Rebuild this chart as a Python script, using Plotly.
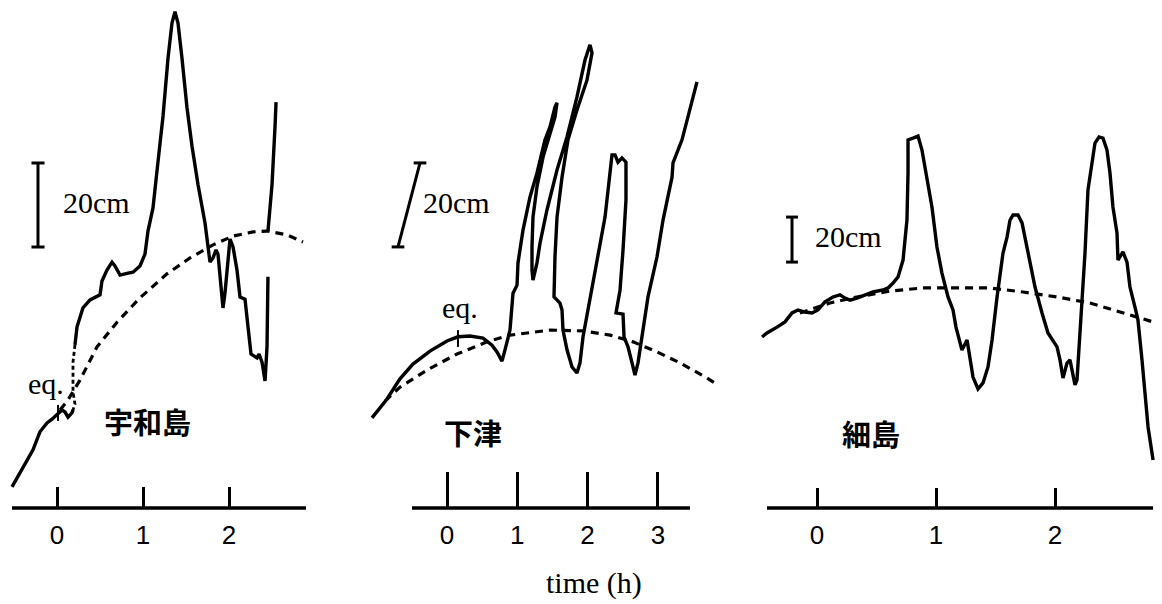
import plotly.graph_objects as go

W, H = 1162, 604

# ---------------- data (time in hours, sea level in cm relative to level at eq.) ----------
# 宇和島 (Uwajima)
uwa_t_a = [-0.523, -0.407, -0.279, -0.198, -0.116, -0.058, 0.0, 0.058, 0.093, 0.128, 0.174, 0.186]
uwa_cm_a = [-17.1, -12.9, -8.3, -4.0, -1.9, -1.0, 0.0, 1.2, 0.7, -0.5, 0.5, 1.2]
uwa_t_gap = [0.209, 0.186, 0.186, 0.186, 0.209, 0.174]
uwa_cm_gap = [16.7, 12.6, 8.8, 5.5, 2.6, 0.5]
uwa_t_b = [0.209, 0.233, 0.302, 0.384, 0.500, 0.523, 0.581, 0.640, 0.674, 0.733, 0.826, 0.884,
           0.965, 1.023, 1.058, 1.116, 1.174, 1.233, 1.291, 1.337, 1.372, 1.407, 1.453, 1.512,
           1.570, 1.640, 1.721, 1.756, 1.779, 1.814, 1.849, 1.872, 1.895, 1.930, 1.953, 1.977,
           2.012, 2.047, 2.093, 2.128, 2.186, 2.221, 2.256, 2.326, 2.349, 2.384, 2.419, 2.442, 2.453]
uwa_cm_b = [16.7, 21.0, 25.5, 27.4, 28.6, 31.9, 34.5, 36.4, 35.5, 33.3, 33.8, 34.0,
            35.5, 38.3, 43.8, 49.3, 60.2, 71.2, 85.0, 93.3, 96.0, 93.3, 85.0, 73.1,
            64.0, 54.8, 45.7, 40.0, 36.4, 37.4, 39.3, 38.3, 32.9, 25.5, 29.0, 34.5,
            41.9, 40.0, 34.5, 28.1, 27.6, 21.0, 14.5, 13.6, 14.5, 12.6, 8.1, 16.2, 32.9]
uwa_t_c = [2.453, 2.500, 2.535, 2.547]
uwa_cm_c = [43.8, 54.8, 68.6, 74.5]
uwa_tide_t = [0.035, 0.128, 0.267, 0.465, 0.698, 0.965, 1.279, 1.547, 1.814, 2.047, 2.279, 2.442, 2.674, 2.860]
uwa_tide_cm = [1.2, 3.6, 8.3, 16.2, 22.1, 27.9, 33.6, 37.4, 40.5, 42.6, 43.6, 43.8, 42.9, 41.2]

# 下津 (Shimotsu)
shi_t = [-1.067, -0.853, -0.669, -0.484, -0.242, 0.0, 0.156, 0.327, 0.512, 0.640, 0.711, 0.782,
         0.825, 0.896, 0.939, 0.996, 1.010, 1.081, 1.181, 1.280, 1.394, 1.465, 1.536, 1.565,
         1.536, 1.465, 1.366, 1.280, 1.223, 1.209, 1.209, 1.223, 1.280, 1.323, 1.422, 1.565,
         1.707, 1.849, 1.963, 2.034, 2.063, 1.991, 1.849, 1.721, 1.636, 1.565, 1.536, 1.522,
         1.607, 1.636, 1.650, 1.707, 1.778, 1.849, 1.892, 1.935, 2.034, 2.134, 2.248, 2.347,
         2.390, 2.432, 2.489, 2.546, 2.546, 2.504, 2.461, 2.404, 2.504, 2.518, 2.575, 2.632,
         2.674, 2.717, 2.774, 2.859, 2.987, 3.073, 3.201, 3.215, 3.343, 3.457, 3.556]
shi_cm = [-18.3, -13.8, -9.0, -5.5, -2.4, 0.0, 1.0, 1.2, 0.7, -1.0, -2.6, -4.8,
          -2.1, 2.6, 11.4, 13.3, 18.6, 26.4, 34.3, 40.0, 47.9, 51.0, 55.7, 56.7,
          53.3, 49.5, 43.8, 36.7, 29.5, 22.4, 16.9, 14.5, 18.6, 23.3, 31.2, 40.7,
          48.6, 58.1, 66.9, 70.5, 68.6, 62.1, 55.0, 47.9, 39.0, 29.5, 20.0, 10.5,
          9.0, 7.4, 2.6, -2.1, -6.2, -7.6, -5.2, 1.0, 9.8, 18.6, 29.5, 44.3,
          44.3, 42.6, 43.6, 42.6, 33.6, 21.7, 12.1, 6.7, 6.4, 1.0, -1.4, -5.2,
          -8.1, -5.2, 1.0, 10.5, 20.0, 28.8, 39.0, 42.4, 47.9, 55.0, 61.7]
shi_tide_t = [-0.882, -0.669, -0.284, 0.142, 0.569, 0.896, 1.465, 1.935, 2.319, 2.646, 2.987, 3.314, 3.698, 3.855]
shi_tide_cm = [-14.3, -11.0, -6.9, -3.1, -0.2, 1.4, 2.6, 2.4, 1.4, -0.2, -2.6, -5.2, -8.8, -10.5]

# 細島 (Hososhima)
hos_t = [-0.462, -0.420, -0.336, -0.269, -0.210, -0.160, -0.101, -0.042, 0.008, 0.067, 0.134,
         0.193, 0.235, 0.277, 0.336, 0.403, 0.471, 0.555, 0.597, 0.639, 0.681, 0.723, 0.756,
         0.765, 0.765, 0.807, 0.849, 0.882, 0.924, 0.966, 1.008, 1.050, 1.101, 1.143, 1.168,
         1.218, 1.261, 1.286, 1.311, 1.353, 1.395, 1.437, 1.471, 1.513, 1.563, 1.597, 1.622,
         1.647, 1.689, 1.723, 1.773, 1.832, 1.891, 1.941, 2.017, 2.042, 2.067, 2.101, 2.126,
         2.151, 2.168, 2.185, 2.202, 2.227, 2.252, 2.277, 2.311, 2.336, 2.370, 2.403, 2.437,
         2.462, 2.487, 2.521, 2.529, 2.571, 2.605, 2.630, 2.672, 2.697, 2.731, 2.756, 2.782, 2.824]
hos_cm = [-12.0, -10.2, -7.6, -5.3, -1.3, 0.0, -0.9, -1.3, 0.0, 3.6, 5.8,
          6.7, 5.3, 4.4, 5.3, 6.7, 8.0, 8.9, 9.8, 12.0, 14.7, 22.2, 40.0,
          60.9, 75.6, 76.4, 77.3, 71.1, 57.8, 45.8, 28.0, 16.4, 5.8, 0.0, -7.6,
          -17.8, -13.3, -22.2, -29.8, -35.1, -32.4, -25.3, -13.3, 5.8, 25.3, 32.4, 40.0,
          42.2, 42.2, 38.7, 25.3, 10.2, -1.3, -10.2, -16.4, -22.2, -30.2, -23.6, -22.2,
          -28.0, -33.3, -31.1, -16.4, 5.8, 25.3, 53.3, 66.7, 74.2, 76.9, 76.4, 71.1,
          60.9, 45.8, 34.2, 22.2, 25.8, 21.3, 10.2, 1.3, -4.4, -22.2, -38.7, -52.0, -66.7]
hos_tide_t = [-0.143, 0.109, 0.336, 0.613, 0.891, 1.176, 1.454, 1.731, 2.017, 2.294, 2.571, 2.824]
hos_tide_cm = [-1.3, 3.1, 5.8, 8.4, 9.8, 9.8, 9.8, 8.0, 5.8, 3.1, -1.3, -5.3]

uwa_ticks = [0, 1, 2]
shi_ticks = [0, 1, 2, 3]
hos_ticks = [0, 1, 2]
station_names = ["宇和島", "下津", "細島"]
scale_text = "20cm"
eq_text = "eq."
xlabel = "time (h)"

# ---------------- figure ----------------
fig = go.Figure()
SOLID = dict(color="black", width=3.4)
DASH = dict(color="black", width=3.2, dash="8px,6px")
DOT = dict(color="black", width=2.8, dash="4px,3px")


def add(x, y, ax, line):
    xa = "x" if ax == 1 else f"x{ax}"
    ya = "y" if ax == 1 else f"y{ax}"
    fig.add_trace(go.Scatter(x=x, y=y, mode="lines", line=line, xaxis=xa, yaxis=ya,
                             showlegend=False, hoverinfo="skip"))


add(uwa_tide_t, uwa_tide_cm, 1, DASH)
add(uwa_t_a, uwa_cm_a, 1, SOLID)
add(uwa_t_gap, uwa_cm_gap, 1, DOT)
add(uwa_t_b, uwa_cm_b, 1, SOLID)
add(uwa_t_c, uwa_cm_c, 1, SOLID)
add(shi_tide_t, shi_tide_cm, 2, DASH)
add(shi_t, shi_cm, 2, SOLID)
add(hos_tide_t, hos_tide_cm, 3, DASH)
add(hos_t, hos_cm, 3, SOLID)


# scale bars (20 cm) and eq. marks
def scalebar(ax, xb, yb, xt, yt, cap):
    add([xb - cap, xb + cap, None, xb, xt, None, xt - cap, xt + cap],
        [yb, yb, None, yb, yt, None, yt, yt], ax, dict(color="black", width=3))


scalebar(1, -0.221, 40.0, -0.221, 60.0, 0.076)
scalebar(2, -0.697, 22.4, -0.384, 42.4, 0.09)
scalebar(3, -0.210, 21.3, -0.210, 41.3, 0.05)
add([0.012, 0.012], [-1.4, 2.4], 1, dict(color="black", width=2))
add([0.156, 0.156], [2.6, -1.4], 2, dict(color="black", width=2))

# axes: each panel has its own x axis (hours) and y axis (cm), mapped to pixels
AXIS_Y = 1 - 508 / H
panels = [
    # (x domain px, x range, y range, ticks, ticklen, axis-line extent)
    ((0, 330), (-0.66279, 3.17442), (-45.0, 98.81), uwa_ticks, 21, (-0.523, 2.895)),
    ((340, 740), (-1.52205, 4.16785), (-62.62, 81.19), shi_ticks, 36, (-0.498, 3.457)),
    ((745, 1162), (-0.60504, 2.89916), (-130.67, 137.78), hos_ticks, 20, (-0.420, 2.824)),
]
for i, (dom, xr, yr, tv, tl, ext) in enumerate(panels, start=1):
    sfx = "" if i == 1 else str(i)
    fig.layout[f"xaxis{sfx}"] = dict(
        domain=[dom[0] / W, dom[1] / W], range=list(xr), anchor="free", position=AXIS_Y,
        showgrid=False, zeroline=False, showline=False, ticks="inside", ticklen=tl,
        tickwidth=3, tickcolor="black", tickvals=tv, ticktext=[str(v) for v in tv],
        tickfont=dict(family="Liberation Sans, Arial", size=26, color="black"),
        ticklabelstandoff=9, fixedrange=True)
    fig.layout[f"yaxis{sfx}"] = dict(
        domain=[0, 1], range=list(yr), anchor=f"x{sfx}", visible=False, fixedrange=True)
    fig.add_shape(type="line", xref=f"x{sfx}", yref="paper", x0=ext[0], x1=ext[1],
                  y0=AXIS_Y, y1=AXIS_Y, line=dict(color="black", width=3.4))


def ann(text, px, py, size, family, bold=False):
    fig.add_annotation(text=f"<b>{text}</b>" if bold else text, x=px / W, y=1 - py / H,
                       xref="paper", yref="paper", xanchor="center", yanchor="middle",
                       showarrow=False, font=dict(family=family, size=size, color="black"))


SERIF = "Liberation Serif, Times New Roman, serif"
CJK = "Noto Sans CJK JP"
ann(scale_text, 96, 202, 30, SERIF)
ann(scale_text, 456, 202, 30, SERIF)
ann(scale_text, 848, 237, 30, SERIF)
ann(eq_text, 46, 383, 30, SERIF)
ann(eq_text, 460, 307, 30, SERIF)
ann(station_names[0], 147, 421, 29, CJK, bold=True)
ann(station_names[1], 473, 432, 29, CJK, bold=True)
ann(station_names[2], 871, 433, 29, CJK, bold=True)
ann(xlabel, 594, 583, 30, SERIF)

fig.update_layout(width=W, height=H, autosize=False, margin=dict(l=0, r=0, t=0, b=0, pad=0),
                  paper_bgcolor="white", plot_bgcolor="white", showlegend=False)
fig.write_html("out.html")
